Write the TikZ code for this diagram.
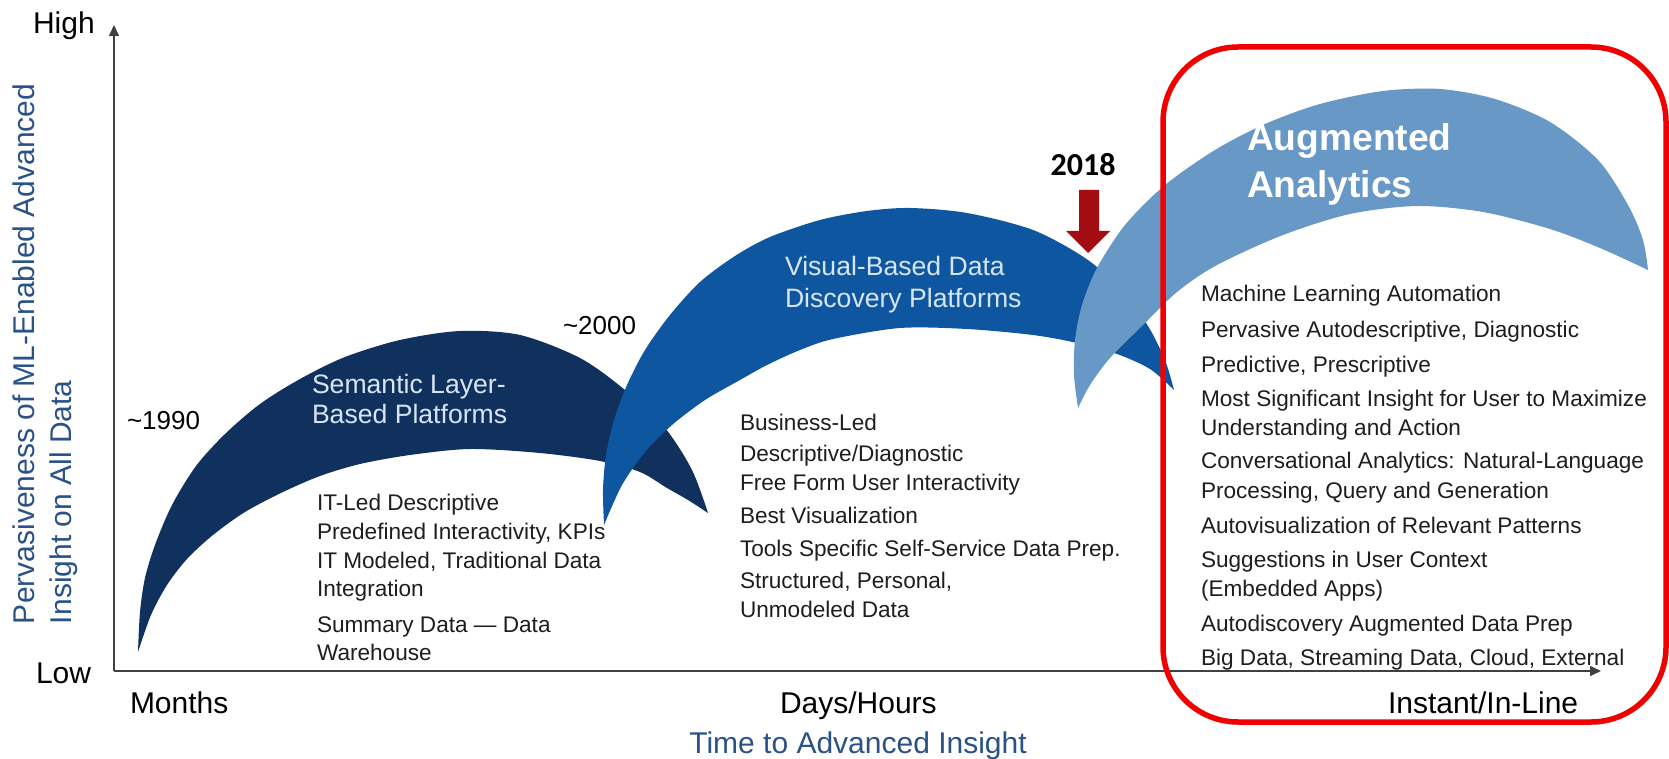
\documentclass[tikz,border=0pt]{standalone}
\usepackage{fontspec}
\setmainfont{Liberation Sans}
\newfontfamily\yearfont{Carlito}
\usetikzlibrary{arrows.meta}
\definecolor{arcA}{HTML}{10315E}
\definecolor{arcB}{HTML}{0E56A0}
\definecolor{arcC}{HTML}{6898C6}
\definecolor{arctext}{HTML}{D8E5F4}
\definecolor{axisblue}{HTML}{2A5288}
\definecolor{listgray}{HTML}{1E1E1E}
\definecolor{markred}{HTML}{A30D12}
\definecolor{boxred}{HTML}{F00000}
\begin{document}
\begin{tikzpicture}[x=0.5pt,y=-0.5pt,
  txt/.style={anchor=base west, inner sep=0pt, outer sep=0pt},
  lst/.style={txt, font=\fontsize{11.3}{13}\selectfont, text=listgray},
  axl/.style={txt, font=\fontsize{15}{18}\selectfont, text=black},
  axt/.style={txt, font=\fontsize{15}{18}\selectfont, text=axisblue},
  ttl/.style={txt, font=\fontsize{13.3}{16}\selectfont, text=arctext},
  bigttl/.style={txt, font=\fontsize{18.6}{22}\selectfont\bfseries, text=white},
  yr/.style={txt, font=\fontsize{13}{16}\selectfont, text=black},
  axisline/.style={draw=black!75, line width=0.75pt, -{Triangle[length=5.5pt,width=5pt]}}
]
\useasboundingbox (0,0) rectangle (1669,759);
\fill[white] (0,0) rectangle (1669,759);

% ---- arcs ----
\fill[arcA] plot[smooth] coordinates {(138,652) (140,612) (145,578) (155,545) (172,505) (196,466) (225,434) (260,404) (300,379) (345,357) (400,340) (460,331) (520,335) (580,358) (625,390) (665,428) (692,470) (708,513)}
  -- plot[smooth] coordinates {(708,513) (688,500) (667,488) (640,472) (600,461) (540,453) (470,449) (410,455) (360,464) (320,476) (283,492) (245,512) (213,535) (187,559) (167,585) (151,615) (138,652)} -- cycle;

\fill[arcB] plot[smooth] coordinates {(604,525) (603,490) (606,455) (614,420) (627,385) (645,350) (670,315) (700,282) (735,256) (770,237) (820,220) (867,211) (910,208) (967,213) (1033,230) (1085,258) (1122,290) (1148,326) (1165,360) (1174,390)}
  -- plot[smooth] coordinates {(1174,390) (1150,369) (1117,354) (1077,343) (1033,335) (967,329) (900,328) (833,339) (800,350) (767,365) (740,380) (705,400) (672,425) (645,452) (622,485) (604,525)} -- cycle;

\fill[arcC] plot[smooth] coordinates {(1078,408) (1074,375) (1075,340) (1082,305) (1097,268) (1125,225) (1165,185) (1215,150) (1265,124) (1320,104) (1383,91) (1440,89) (1495,99) (1550,122) (1598,160) (1628,205) (1643,240) (1648,270)}
  -- plot[smooth] coordinates {(1648,270) (1600,248) (1550,229) (1483,212) (1417,206) (1350,214) (1283,235) (1217,265) (1177,292) (1143,325) (1110,358) (1090,385) (1078,408)} -- cycle;

% ---- arc titles ----
\node[ttl] (t1a) at (312,393) {Semantic Layer-};
\node[ttl] (t1b) at (312,423) {Based Platforms};
\node[ttl] (t2a) at (785,276) {Visual-Based Data};
\node[ttl] (t2b) at (785,307) {Discovery Platforms};
\node[bigttl] (t3a) at (1247,151) {Augmented};
\node[bigttl] (t3b) at (1247,198) {Analytics};

% ---- years ----
\node[yr] (y1990) at (127,429) {\textasciitilde1990};
\node[yr] (y2000) at (563,334) {\textasciitilde2000};
\node[anchor=base, inner sep=0pt, font=\yearfont\fontsize{16}{19}\selectfont\bfseries] (y2018) at (1083,176) {2018};
\fill[markred] (1079,190) -- (1099,190) -- (1099,231) -- (1110,231) -- (1088,253) -- (1066,231) -- (1079,231) -- cycle;

% ---- lists ----
\node[lst] (l1a) at (317,510) {IT-Led Descriptive};
\node[lst] (l1b) at (317,539) {Predefined Interactivity, KPIs};
\node[lst] (l1c) at (317,568) {IT Modeled, Traditional Data};
\node[lst] (l1d) at (317,596) {Integration};
\node[lst] (l1e) at (317,632) {Summary Data — Data};
\node[lst] (l1f) at (317,660) {Warehouse};

\node[lst] (l2a) at (740,430) {Business-Led};
\node[lst] (l2b) at (740,461) {Descriptive/Diagnostic};
\node[lst] (l2c) at (740,490) {Free Form User Interactivity};
\node[lst] (l2d) at (740,523) {Best Visualization};
\node[lst] (l2e) at (740,556) {Tools Specific Self-Service Data Prep.};
\node[lst] (l2f) at (740,588) {Structured, Personal,};
\node[lst] (l2g) at (740,617) {Unmodeled Data};

\node[lst] (l3a) at (1201,301) {Machine Learning Automation};
\node[lst] (l3b) at (1201,337) {Pervasive Autodescriptive, Diagnostic};
\node[lst] (l3c) at (1201,372) {Predictive, Prescriptive};
\node[lst] (l3d) at (1201,406) {Most Significant Insight for User to Maximize};
\node[lst] (l3e) at (1201,435) {Understanding and Action};
\node[lst] (l3f) at (1201,468) {Conversational Analytics: Natural-Language};
\node[lst] (l3g) at (1201,498) {Processing, Query and Generation};
\node[lst] (l3h) at (1201,533) {Autovisualization of Relevant Patterns};
\node[lst] (l3i) at (1201,567) {Suggestions in User Context};
\node[lst] (l3j) at (1201,596) {(Embedded Apps)};
\node[lst] (l3k) at (1201,631) {Autodiscovery Augmented Data Prep};
\node[lst] (l3l) at (1201,665) {Big Data, Streaming Data, Cloud, External};

% ---- axes ----
\coordinate (O) at (114,671);
\coordinate (Ytop) at (114,25);
\coordinate (Xend) at (1601,671);
\draw[axisline] (O) -- (Ytop);
\draw[axisline] (O) -- (Xend);

\node[axl] (high) at (33,34) {High};
\node[axl] (low) at (36,683) {Low};
\node[axl] (months) at (130,713) {Months};
\node[axl] (days) at (780,713) {Days/Hours};
\node[axl] (instant) at (1388,713) {Instant/In-Line};
\node[anchor=base, inner sep=0pt, font=\fontsize{15}{18}\selectfont, text=axisblue] (xlabel) at (858,753) {Time to Advanced Insight};
\node[axt, rotate=90] (ylab1) at (34,624) {Pervasiveness of ML-Enabled Advanced};
\node[axt, rotate=90] (ylab2) at (71,624) {Insight on All Data};

% ---- highlight box ----
\draw[boxred, line width=2.75pt, rounded corners=37.5pt] (1163,47) rectangle (1666,722);
\end{tikzpicture}
\end{document}
